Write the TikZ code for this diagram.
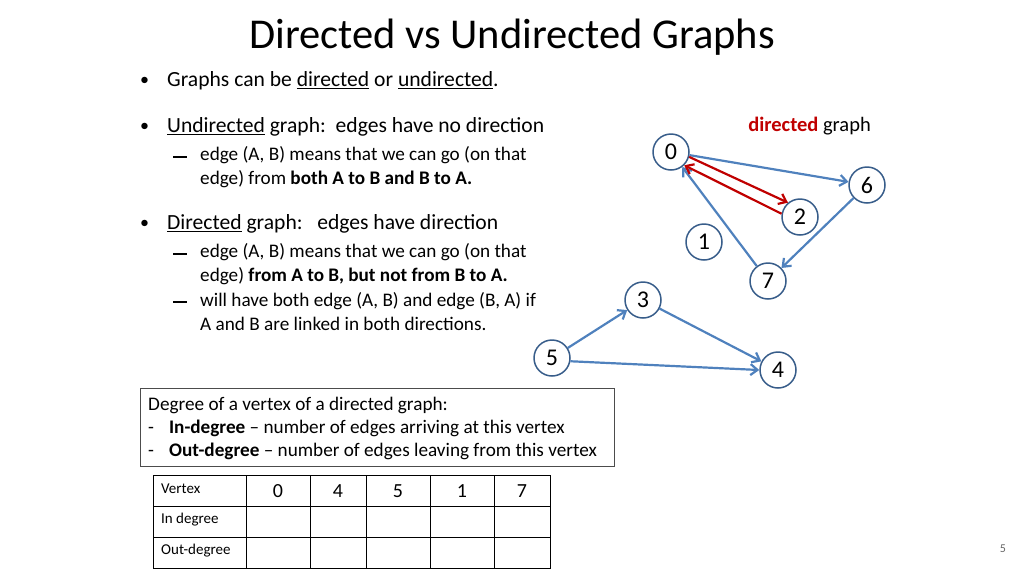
\documentclass[tikz,border=0pt]{standalone}
\usepackage{fontspec}
\setmainfont{Carlito}
\usetikzlibrary{arrows.meta}
\definecolor{eblue}{RGB}{79,129,189}
\definecolor{nblue}{RGB}{56,93,138}
\definecolor{dred}{RGB}{192,0,0}
\begin{document}
\begin{tikzpicture}[x=1pt,y=-1pt,
  vtx/.style={circle,draw=nblue,line width=1.5pt,fill=white,minimum size=36pt,inner sep=0pt,font=\fontsize{24}{26}\selectfont},
  ed/.style={draw=eblue,line width=2.2pt,-{Straight Barb[length=7pt,width=11pt]}},
  red/.style={draw=dred,line width=2.2pt,-{Straight Barb[length=7pt,width=11pt]}},
  txt/.style={anchor=west,inner sep=0pt,font=\fontsize{21.6}{26}\selectfont},
  sub/.style={anchor=west,inner sep=0pt,font=\fontsize{19.2}{24}\selectfont,align=left},
  dsh/.style={anchor=west,inner sep=0pt},
  cell/.style={font=\fontsize{15}{17}\selectfont,anchor=west,inner sep=0pt},
  num/.style={font=\fontsize{20}{22}\selectfont,inner sep=0pt}]
\useasboundingbox (0,0) rectangle (1024,576);
\node (title) at (512,37) {\fontsize{42.5}{46}\selectfont Directed vs Undirected Graphs};
\node[txt] (b1) at (140,81) {\fontsize{18}{20}\selectfont•};
\node[txt] (t1) at (167,81) {Graphs can be \underline{directed} or \underline{undirected}.};
\node[txt] (b2) at (140,127) {\fontsize{18}{20}\selectfont•};
\node[txt] (t2) at (167,127) {\underline{Undirected} graph:\ \ edges have no direction};
\node[dsh] (d1) at (173,157) {\rule{14pt}{1.2pt}};
\node[sub] (s1) at (200,167) {edge (A, B) means that we can go (on that\\edge) from \textbf{both A to B and B to A.}};
\node[txt] (b3) at (140,224) {\fontsize{18}{20}\selectfont•};
\node[txt] (t3) at (167,224) {\underline{Directed} graph:\ \ \ edges have direction};
\node[dsh] (d2) at (173,254) {\rule{14pt}{1.2pt}};
\node[sub] (s2) at (200,264) {edge (A, B) means that we can go (on that\\edge) \textbf{from A to B, but not from B to A.}};
\node[dsh] (d3) at (173,302) {\rule{14pt}{1.2pt}};
\node[sub] (s3) at (200,312) {will have both edge (A, B) and edge (B, A) if\\A and B are linked in both directions.};
\node[anchor=east,inner sep=0pt,font=\fontsize{20.5}{24}\selectfont] (lab) at (871,126) {\textbf{\textcolor{dred}{directed}} graph};

\node[vtx] (n0) at (671,152) {0};
\node[vtx] (n6) at (867,185) {6};
\node[vtx] (n2) at (800,217) {2};
\node[vtx] (n1) at (704,242) {1};
\node[vtx] (n7) at (768,281) {7};
\node[vtx] (n3) at (643,300) {3};
\node[vtx] (n5) at (552,358) {5};
\node[vtx] (n4) at (778,370) {4};
\draw[ed] (n0) -- (n6);
\draw[ed] (n6) -- (n7);
\draw[ed] (n7) -- (n0);
\draw[ed] (n5) -- (n3);
\draw[ed] (n3) -- (n4);
\draw[ed] (n5.-10) -- (n4.west);
\draw[red] (n0.-15) -- (n2.130);
\draw[red] (n2.170) -- (n0.-45);

\node[draw=black!70,line width=0.8pt,minimum width=474pt,minimum height=78pt,anchor=north west] (box) at (140,388) {};
\node[anchor=west,inner sep=0pt,font=\fontsize{19.2}{22}\selectfont] (bx1) at (148,405) {Degree of a vertex of a directed graph:};
\node[anchor=west,inner sep=0pt,font=\fontsize{19.2}{22}\selectfont] (bx2) at (148,428) {-\hspace{15pt}\textbf{In-degree} – number of edges arriving at this vertex};
\node[anchor=west,inner sep=0pt,font=\fontsize{19.2}{22}\selectfont] (bx3) at (148,451) {-\hspace{15pt}\textbf{Out-degree} – number of edges leaving from this vertex};

\draw[line width=0.8pt] (153,475) rectangle (550,568);
\foreach \y in {506,537} \draw[line width=0.8pt] (153,\y) -- (550,\y);
\foreach \x in {246,310,366,430,494} \draw[line width=0.8pt] (\x,475) -- (\x,568);
\node[cell] (c1) at (161,489) {Vertex};
\node[cell] (c2) at (161,520) {In degree};
\node[cell] (c3) at (161,551) {Out-degree};
\node[num] (v0) at (278,491) {0};
\node[num] (v4) at (338,491) {4};
\node[num] (v5) at (398,491) {5};
\node[num] (v1) at (462,491) {1};
\node[num] (v7) at (522,491) {7};
\node[font=\fontsize{12}{13}\selectfont,text=black!60] (pg) at (1003,549) {5};
\end{tikzpicture}
\end{document}
